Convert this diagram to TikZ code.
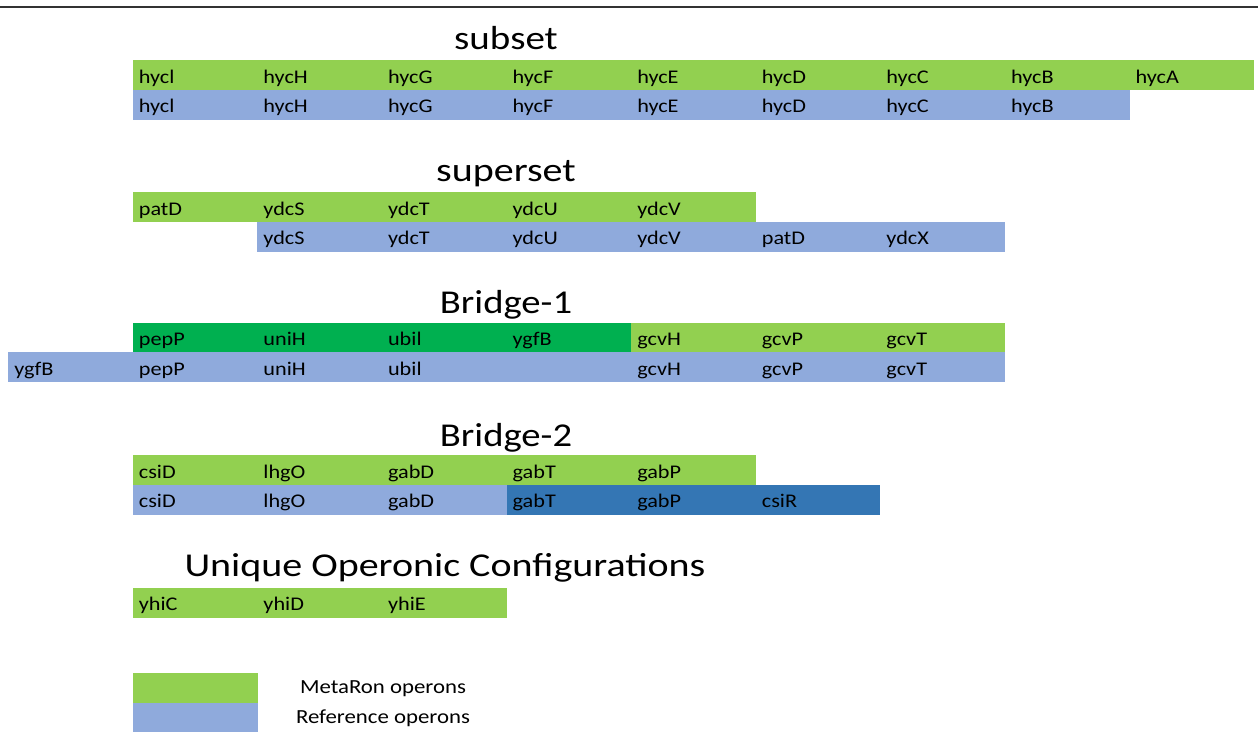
\documentclass[tikz,border=0pt]{standalone}
\usepackage{fontspec}
\setmainfont{Carlito}
\definecolor{metagreen}{HTML}{92D050}
\definecolor{bridgegreen}{HTML}{00B050}
\definecolor{refblue}{HTML}{8FAADC}
\definecolor{darkblue}{HTML}{3476B4}
\newcommand{\gene}[1]{\scalebox{1.15}[1]{#1}}
\newcommand{\stretched}[2]{\scalebox{#1}[1]{#2}}

\begin{document}
\begin{tikzpicture}[x=0.75pt, y=-0.75pt,
  cell/.style={anchor=north west, inner xsep=4.5pt, inner ysep=0pt,
    text width=84.45pt, minimum height=22.3pt, text height=12pt, text depth=0pt,
    font=\fontsize{14.5}{16}\selectfont},
  title/.style={anchor=base, font=\fontsize{25}{30}\selectfont},
  legendtext/.style={font=\fontsize{15}{17}\selectfont}]

\useasboundingbox (0,0) rectangle (1258,732);
\draw[black!80, line width=1.5pt] (0,7) -- (1258,7);

% subset
\node[title] (t-sub) at (506,49.5) {\stretched{1.17}{subset}};
\foreach \g [count=\i] in {hycl,hycH,hycG,hycF,hycE,hycD,hycC,hycB,hycA}
  \node[cell, fill=metagreen] (sub-m\i) at ({8+124.6*\i},60) {\gene{\g}};
\foreach \g [count=\i] in {hycl,hycH,hycG,hycF,hycE,hycD,hycC,hycB}
  \node[cell, fill=refblue] (sub-r\i) at ({8+124.6*\i},89.5) {\gene{\g}};

% superset
\node[title] (t-sup) at (506,181.5) {\stretched{1.2}{superset}};
\foreach \g [count=\i] in {patD,ydcS,ydcT,ydcU,ydcV}
  \node[cell, fill=metagreen] (sup-m\i) at ({8+124.6*\i},192) {\gene{\g}};
\foreach \g [count=\i] in {ydcS,ydcT,ydcU,ydcV,patD,ydcX}
  \node[cell, fill=refblue] (sup-r\i) at ({8+124.6*(\i+1)},221.5) {\gene{\g}};

% Bridge-1
\node[title] (t-br1) at (506,313) {\stretched{1.16}{Bridge-1}};
\foreach \g [count=\i] in {pepP,uniH,ubil,ygfB}
  \node[cell, fill=bridgegreen] (br1-m\i) at ({8+124.6*\i},322.5) {\gene{\g}};
\foreach \g [count=\i] in {gcvH,gcvP,gcvT}
  \node[cell, fill=metagreen] (br1-g\i) at ({8+124.6*(\i+4)},322.5) {\gene{\g}};
\foreach \g [count=\i] in {ygfB,pepP,uniH,ubil,{},gcvH,gcvP,gcvT}
  \node[cell, fill=refblue] (br1-r\i) at ({8+124.6*(\i-1)},352) {\gene{\g}};

% Bridge-2
\node[title] (t-br2) at (506,446) {\stretched{1.16}{Bridge-2}};
\foreach \g [count=\i] in {csiD,lhgO,gabD,gabT,gabP}
  \node[cell, fill=metagreen] (br2-m\i) at ({8+124.6*\i},455) {\gene{\g}};
\foreach \g [count=\i] in {csiD,lhgO,gabD}
  \node[cell, fill=refblue] (br2-r\i) at ({8+124.6*\i},484.5) {\gene{\g}};
\foreach \g [count=\i] in {gabT,gabP,csiR}
  \node[cell, fill=darkblue] (br2-d\i) at ({8+124.6*(\i+3)},484.5) {\gene{\g}};

% unique
\node[title] (t-uni) at (445,576.5) {\stretched{1.2}{Unique Operonic Configurations}};
\foreach \g [count=\i] in {yhiC,yhiD,yhiE}
  \node[cell, fill=metagreen] (uni-m\i) at ({8+124.6*\i},587.5) {\gene{\g}};

% legend
\node[cell, fill=metagreen] (leg-m) at (133,673) {};
\node[cell, fill=refblue] (leg-r) at (133,703) {};
\node[legendtext] (leg-mtext) at (383,689) {\stretched{1.14}{MetaRon operons}};
\node[legendtext] (leg-rtext) at (383,718) {\stretched{1.14}{Reference operons}};

\end{tikzpicture}
\end{document}
